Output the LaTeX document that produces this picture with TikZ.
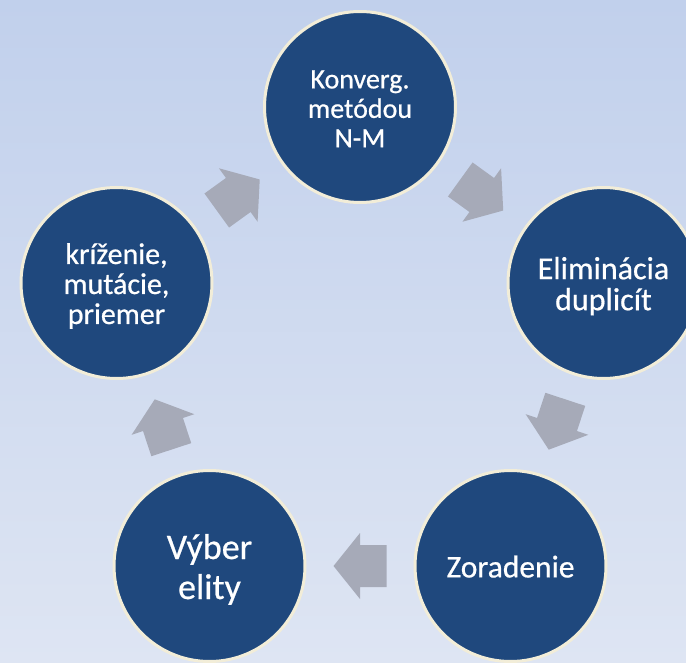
\documentclass[tikz,border=0pt]{standalone}
\usepackage{fontspec}
\setmainfont{Carlito}[FakeBold=0.6]
\usetikzlibrary{calc}
\definecolor{bgtop}{RGB}{193,208,236}
\definecolor{bgbot}{RGB}{222,229,243}
\definecolor{discblue}{RGB}{31,72,125}
\definecolor{ringcream}{RGB}{242,237,216}
\definecolor{arrowgray}{RGB}{166,170,184}
\tikzset{
  disc/.style={circle, fill=discblue, draw=ringcream, line width=3pt, minimum size=191pt, inner sep=0pt, text=white, align=center},
  barrow/.pic={\fill[arrowgray] (-26.5,-21) -- (0,-21) -- (0,-33) -- (26.5,0) -- (0,33) -- (0,21) -- (-26.5,21) -- cycle;}
}
\newcommand{\disctext}[1]{\raisebox{-5pt}[\height][\depth]{\begin{tabular}{@{}c@{}}#1\end{tabular}}}
\newcommand{\cyclearrow}[2]{%
  \path let \p1=($(#2)-(#1)$), \n1={atan2(\y1,\x1)} in
    ($(#1)!0.5!(#2)$) pic[rotate=\n1] {barrow};}
\begin{document}
\begin{tikzpicture}[x=1pt,y=-1pt]
\shade[top color=bgtop, bottom color=bgbot] (0,0) rectangle (686,663);
\useasboundingbox (0,0) rectangle (686,663);
\clip (0,0) rectangle (686,663);
\node[disc, font=\fontsize{28}{29.5}\selectfont] (top) at (360,107) {\disctext{Konverg.\\metódou\\N-M}};
\node[disc, font=\fontsize{32}{29.5}\selectfont] (right) at (603.5,283) {\disctext{Eliminácia\\duplicít}};
\node[disc, font=\fontsize{31.5}{32}\selectfont] (br) at (510.5,566) {\disctext{Zoradenie}};
\node[disc, font=\fontsize{36}{40}\selectfont] (bl) at (209.5,566) {\disctext{Výber\\elity}};
\node[disc, font=\fontsize{30}{30}\selectfont] (left) at (116.5,283) {\disctext{kríženie,\\mutácie,\\priemer}};
\cyclearrow{top}{right}
\cyclearrow{right}{br}
\cyclearrow{br}{bl}
\cyclearrow{bl}{left}
\cyclearrow{left}{top}
\end{tikzpicture}
\end{document}
